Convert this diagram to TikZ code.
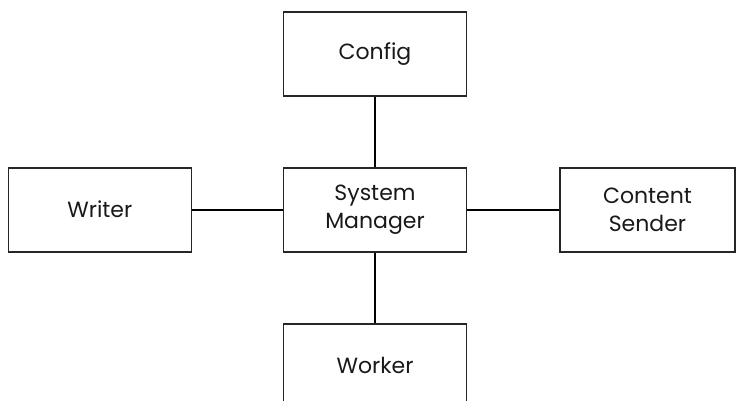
\documentclass[tikz,border=0pt]{standalone}
\usepackage{fontspec}
\setmainfont{Poppins}
\usetikzlibrary{positioning}

\begin{document}
\begin{tikzpicture}[x=1pt,y=-1pt,line width=1.6pt,
    block/.style={draw=black!85,rectangle,minimum width=183pt,minimum height=84pt,
      align=center,font=\fontsize{22}{28}\selectfont,text=black!90,inner sep=0pt}]
      \useasboundingbox (0,0) rectangle (736,401);
      \node[block] (sm) at (375,209.7) {System\\Manager};
      \node[block] (cfg) [above=70pt of sm] {Config};
      \node[block] (wr) [left=90.6pt of sm] {Writer};
      \node[block,minimum width=175.5pt] (cs) [right=91.6pt of sm] {Content\\Sender};
      \node[block] (wk) [below=70.4pt of sm] {Worker};
      \draw (cfg) -- (sm);
      \draw (wr) -- (sm);
      \draw (sm) -- (cs);
      \draw (sm) -- (wk);
    \end{tikzpicture}
\end{document}
